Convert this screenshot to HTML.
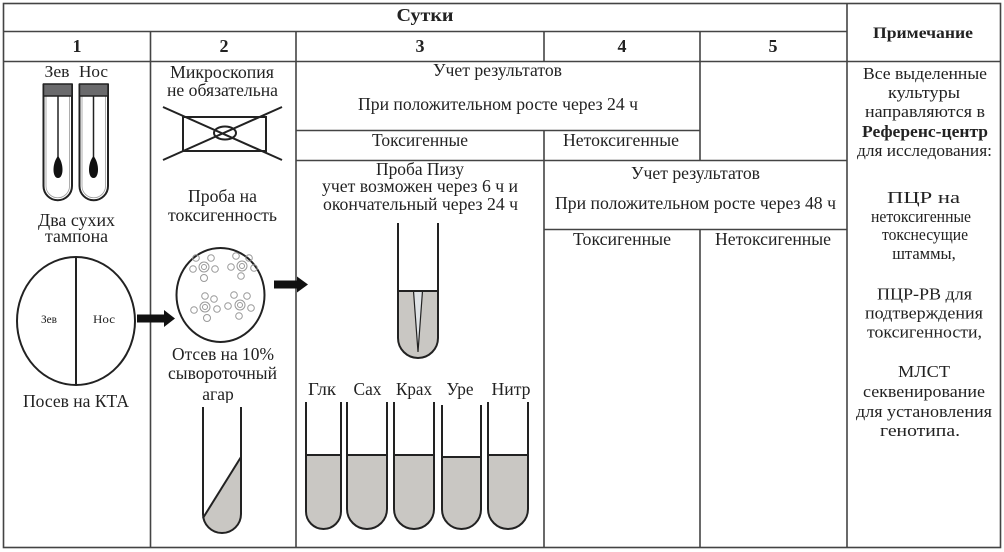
<!DOCTYPE html>
<html><head><meta charset="utf-8">
<style>
html,body{margin:0;padding:0;background:#fff;}
svg{display:block;}
text{font-family:"Liberation Serif","DejaVu Serif",serif;fill:#222;}
.b{font-weight:bold;}
</style></head>
<body>
<svg width="1004" height="552" viewBox="0 0 1004 552" xmlns="http://www.w3.org/2000/svg">
<rect x="0" y="0" width="1004" height="552" fill="#fff"/>
<!-- table lines -->
<g stroke="#444" stroke-width="1.6" fill="none">
<rect x="3.5" y="3.5" width="997" height="544"/>
<line x1="3" y1="31.5" x2="847" y2="31.5"/>
<line x1="3" y1="61.5" x2="1000" y2="61.5"/>
<line x1="847" y1="3" x2="847" y2="547"/>
<line x1="150.5" y1="31" x2="150.5" y2="547"/>
<line x1="296" y1="31" x2="296" y2="547"/>
<line x1="544" y1="31" x2="544" y2="61"/>
<line x1="544" y1="130" x2="544" y2="547"/>
<line x1="700" y1="31" x2="700" y2="160"/>
<line x1="700" y1="230" x2="700" y2="547"/>
<line x1="296" y1="130.5" x2="700" y2="130.5"/>
<line x1="296" y1="160.5" x2="847" y2="160.5"/>
<line x1="544" y1="229.5" x2="847" y2="229.5"/>
</g>

<!-- header texts -->
<text class="b" x="425" y="21" font-size="18" text-anchor="middle" textLength="57" lengthAdjust="spacingAndGlyphs">Сутки</text>
<text class="b" x="923" y="38" font-size="16" text-anchor="middle" textLength="100" lengthAdjust="spacingAndGlyphs">Примечание</text>
<text class="b" x="77" y="52" font-size="18" text-anchor="middle">1</text>
<text class="b" x="224" y="52" font-size="18" text-anchor="middle">2</text>
<text class="b" x="420" y="52" font-size="18" text-anchor="middle">3</text>
<text class="b" x="622" y="52" font-size="18" text-anchor="middle">4</text>
<text class="b" x="773" y="52" font-size="18" text-anchor="middle">5</text>

<!-- column 1 -->
<text x="57" y="77" font-size="17" text-anchor="middle" textLength="25" lengthAdjust="spacingAndGlyphs">Зев</text>
<text x="93.5" y="77" font-size="17" text-anchor="middle" textLength="29" lengthAdjust="spacingAndGlyphs">Нос</text>
<g stroke="#222" stroke-width="2" fill="none">
<path d="M43.5,84 L43.5,186 A14.25,14.25 0 0 0 72,186 L72,84"/>
<path d="M79.5,84 L79.5,186 A14.25,14.25 0 0 0 108,186 L108,84"/>
</g>
<g stroke="#999" stroke-width="0.8" fill="none">
<path d="M46,96 L46,186 A11.75,11.75 0 0 0 69.5,186 L69.5,96"/>
<path d="M82,96 L82,186 A11.75,11.75 0 0 0 105.5,186 L105.5,96"/>
</g>
<rect x="43.5" y="84" width="28.5" height="12" fill="#6a6a6c" stroke="#222" stroke-width="1.5"/>
<rect x="79.5" y="84" width="28.5" height="12" fill="#6a6a6c" stroke="#222" stroke-width="1.5"/>
<line x1="58" y1="96" x2="58" y2="160" stroke="#222" stroke-width="1.5"/>
<line x1="93.5" y1="96" x2="93.5" y2="160" stroke="#222" stroke-width="1.5"/>
<path d="M58,156 C52,163 52,178 58,178 C64,178 64,163 58,156 Z" fill="#111"/>
<path d="M93.5,156 C87.5,163 87.5,178 93.5,178 C99.5,178 99.5,163 93.5,156 Z" fill="#111"/>
<text x="76.5" y="226" font-size="17.5" text-anchor="middle" textLength="77" lengthAdjust="spacingAndGlyphs">Два сухих</text>
<text x="76.5" y="242" font-size="17.5" text-anchor="middle" textLength="63" lengthAdjust="spacingAndGlyphs">тампона</text>
<ellipse cx="76" cy="321" rx="59" ry="64" fill="none" stroke="#222" stroke-width="2"/>
<line x1="76" y1="257" x2="76" y2="385" stroke="#222" stroke-width="2"/>
<text x="49" y="323" font-size="12" text-anchor="middle" fill="#444" textLength="16" lengthAdjust="spacingAndGlyphs">Зев</text>
<text x="104" y="323" font-size="12" text-anchor="middle" fill="#444" textLength="22" lengthAdjust="spacingAndGlyphs">Нос</text>
<text x="76" y="407" font-size="17.5" text-anchor="middle" textLength="106" lengthAdjust="spacingAndGlyphs">Посев на КТА</text>
<!-- arrow 1 -->
<rect x="137" y="314.5" width="29" height="8" fill="#111"/>
<polygon points="164,310 175,318.5 164,327" fill="#111"/>

<!-- column 2 -->
<text x="222" y="78" font-size="17.5" text-anchor="middle" textLength="104" lengthAdjust="spacingAndGlyphs">Микроскопия</text>
<text x="222.5" y="96" font-size="17.5" text-anchor="middle" textLength="111" lengthAdjust="spacingAndGlyphs">не обязательна</text>
<g stroke="#222" stroke-width="2" fill="none">
<rect x="183" y="117" width="83" height="34"/>
<line x1="163" y1="107" x2="282" y2="160"/>
<line x1="163" y1="160" x2="282" y2="107"/>
<ellipse cx="225" cy="133" rx="11" ry="6.5"/>
</g>
<text x="222.5" y="202" font-size="17.5" text-anchor="middle" textLength="69" lengthAdjust="spacingAndGlyphs">Проба на</text>
<text x="222.5" y="221" font-size="17.5" text-anchor="middle" textLength="109" lengthAdjust="spacingAndGlyphs">токсигенность</text>
<ellipse cx="220.5" cy="295" rx="44" ry="47" fill="none" stroke="#222" stroke-width="2"/>
<g stroke="#999" stroke-width="1" fill="none">
<g transform="translate(204,267)">
<circle r="5"/><circle r="2.5"/>
<circle cx="-8" cy="-9" r="3.3"/><circle cx="7" cy="-9" r="3.3"/><circle cx="-11" cy="2" r="3.3"/><circle cx="11" cy="2" r="3.3"/><circle cx="0" cy="11" r="3.5"/>
</g>
<g transform="translate(242,266)">
<circle r="5"/><circle r="2.5"/>
<circle cx="-6" cy="-10" r="3.3"/><circle cx="7" cy="-8" r="3.3"/><circle cx="-11" cy="1" r="3.3"/><circle cx="12" cy="2" r="3.3"/><circle cx="-1" cy="10" r="3.3"/>
</g>
<g transform="translate(205,307)">
<circle r="5"/><circle r="2.5"/>
<circle cx="0" cy="-11" r="3.3"/><circle cx="9" cy="-8" r="3.3"/><circle cx="-11" cy="3" r="3.3"/><circle cx="12" cy="2" r="3.3"/><circle cx="2" cy="11" r="3.5"/>
</g>
<g transform="translate(240,305)">
<circle r="5"/><circle r="2.5"/>
<circle cx="-6" cy="-10" r="3.3"/><circle cx="7" cy="-9" r="3.3"/><circle cx="-12" cy="1" r="3.3"/><circle cx="11" cy="3" r="3.3"/><circle cx="-1" cy="11" r="3.3"/>
</g>
</g>
<text x="223" y="360" font-size="17.5" text-anchor="middle" textLength="102" lengthAdjust="spacingAndGlyphs">Отсев на 10%</text>
<text x="222.5" y="379" font-size="17.5" text-anchor="middle" textLength="109" lengthAdjust="spacingAndGlyphs">сывороточный</text>
<text x="218" y="400" font-size="17.5" text-anchor="middle">агар</text>
<rect x="200" y="403" width="45" height="6" fill="#fff"/>
<path d="M203,518 L241,457 L241,514 A19,19 0 0 1 203,514 Z" fill="#c9c7c3"/>
<g stroke="#222" stroke-width="2" fill="none">
<path d="M203,407 L203,514 A19,19 0 0 0 241,514 L241,407"/>
<line x1="203" y1="518" x2="241" y2="457"/>
</g>
<!-- arrow 2 -->
<rect x="274" y="280.5" width="25" height="8" fill="#111"/>
<polygon points="297,276.5 308,284.5 297,292.5" fill="#111"/>

<!-- column 3/4 top -->
<text x="497.5" y="76" font-size="17.5" text-anchor="middle" textLength="129" lengthAdjust="spacingAndGlyphs">Учет результатов</text>
<text x="498" y="110" font-size="17.5" text-anchor="middle" textLength="280" lengthAdjust="spacingAndGlyphs">При положительном росте через 24 ч</text>
<text x="420" y="146" font-size="17.5" text-anchor="middle" textLength="96" lengthAdjust="spacingAndGlyphs">Токсигенные</text>
<text x="621" y="146" font-size="17.5" text-anchor="middle" textLength="116" lengthAdjust="spacingAndGlyphs">Нетоксигенные</text>

<!-- column 3 lower -->
<text x="420" y="175" font-size="17.5" text-anchor="middle" textLength="88" lengthAdjust="spacingAndGlyphs">Проба Пизу</text>
<text x="420" y="192" font-size="17.5" text-anchor="middle" textLength="196" lengthAdjust="spacingAndGlyphs">учет возможен через 6 ч и</text>
<text x="420.5" y="210" font-size="17.5" text-anchor="middle" textLength="195" lengthAdjust="spacingAndGlyphs">окончательный через 24 ч</text>
<path d="M398,291 L438,291 L438,338 A20,20 0 0 1 398,338 Z" fill="#c9c7c3"/>
<path d="M413.5,291 L422.5,291 L418,352 Z" fill="#dfe3e6" stroke="#222" stroke-width="1.2"/>
<g stroke="#222" stroke-width="2" fill="none">
<path d="M398,223 L398,338 A20,20 0 0 0 438,338 L438,223"/>
<line x1="398" y1="291" x2="438" y2="291"/>
</g>

<text x="322" y="395" font-size="17.5" text-anchor="middle" textLength="28" lengthAdjust="spacingAndGlyphs">Глк</text>
<text x="367.5" y="395" font-size="17.5" text-anchor="middle" textLength="28" lengthAdjust="spacingAndGlyphs">Сах</text>
<text x="414" y="395" font-size="17.5" text-anchor="middle" textLength="36" lengthAdjust="spacingAndGlyphs">Крах</text>
<text x="460" y="395" font-size="17.5" text-anchor="middle" textLength="27" lengthAdjust="spacingAndGlyphs">Уре</text>
<text x="511" y="395" font-size="17.5" text-anchor="middle" textLength="39" lengthAdjust="spacingAndGlyphs">Нитр</text>

<g fill="#c9c7c3">
<path d="M306,455 L341,455 L341,511.5 A17.5,17.5 0 0 1 306,511.5 Z"/>
<path d="M347,455 L387,455 L387,509 A20,20 0 0 1 347,509 Z"/>
<path d="M394,455 L434,455 L434,509 A20,20 0 0 1 394,509 Z"/>
<path d="M442,457 L481,457 L481,509.5 A19.5,19.5 0 0 1 442,509.5 Z"/>
<path d="M488,455 L528,455 L528,509 A20,20 0 0 1 488,509 Z"/>
</g>
<g stroke="#222" stroke-width="2" fill="none">
<path d="M306,402 L306,511.5 A17.5,17.5 0 0 0 341,511.5 L341,402"/>
<path d="M347,402 L347,509 A20,20 0 0 0 387,509 L387,402"/>
<path d="M394,402 L394,509 A20,20 0 0 0 434,509 L434,402"/>
<path d="M442,405 L442,509.5 A19.5,19.5 0 0 0 481,509.5 L481,405"/>
<path d="M488,402 L488,509 A20,20 0 0 0 528,509 L528,402"/>
<line x1="306" y1="455" x2="341" y2="455"/>
<line x1="347" y1="455" x2="387" y2="455"/>
<line x1="394" y1="455" x2="434" y2="455"/>
<line x1="442" y1="457" x2="481" y2="457"/>
<line x1="488" y1="455" x2="528" y2="455"/>
</g>

<!-- columns 4/5 lower -->
<text x="695.5" y="179" font-size="17.5" text-anchor="middle" textLength="129" lengthAdjust="spacingAndGlyphs">Учет результатов</text>
<text x="695.5" y="209" font-size="17.5" text-anchor="middle" textLength="281" lengthAdjust="spacingAndGlyphs">При положительном росте через 48 ч</text>
<text x="622" y="245" font-size="17.5" text-anchor="middle" textLength="98" lengthAdjust="spacingAndGlyphs">Токсигенные</text>
<text x="773" y="245" font-size="17.5" text-anchor="middle" textLength="116" lengthAdjust="spacingAndGlyphs">Нетоксигенные</text>

<!-- notes -->
<g font-size="16.5" text-anchor="middle">
<text x="925" y="79" textLength="124" lengthAdjust="spacingAndGlyphs">Все выделенные</text>
<text x="924" y="98" textLength="72" lengthAdjust="spacingAndGlyphs">культуры</text>
<text x="925" y="117" textLength="120" lengthAdjust="spacingAndGlyphs">направляются в</text>
<text class="b" x="925" y="137" textLength="126" lengthAdjust="spacingAndGlyphs">Референс-центр</text>
<text x="924.5" y="156" textLength="135" lengthAdjust="spacingAndGlyphs">для исследования:</text>
<text x="923.5" y="203" textLength="73" lengthAdjust="spacingAndGlyphs">ПЦР на</text>
<text x="921" y="222" textLength="100" lengthAdjust="spacingAndGlyphs">нетоксигенные</text>
<text x="925" y="240" textLength="86" lengthAdjust="spacingAndGlyphs">токснесущие</text>
<text x="924" y="259">штаммы,</text>
<text x="924.5" y="299.5" textLength="95" lengthAdjust="spacingAndGlyphs">ПЦР-РВ для</text>
<text x="924" y="318.5" textLength="118" lengthAdjust="spacingAndGlyphs">подтверждения</text>
<text x="924.5" y="337.5" textLength="115" lengthAdjust="spacingAndGlyphs">токсигенности,</text>
<text x="924" y="377" textLength="52" lengthAdjust="spacingAndGlyphs">МЛСТ</text>
<text x="924" y="397" textLength="122" lengthAdjust="spacingAndGlyphs">секвенирование</text>
<text x="924" y="417" textLength="136" lengthAdjust="spacingAndGlyphs">для установления</text>
<text x="920" y="436" textLength="80" lengthAdjust="spacingAndGlyphs">генотипа.</text>
</g>
</svg>
</body></html>
